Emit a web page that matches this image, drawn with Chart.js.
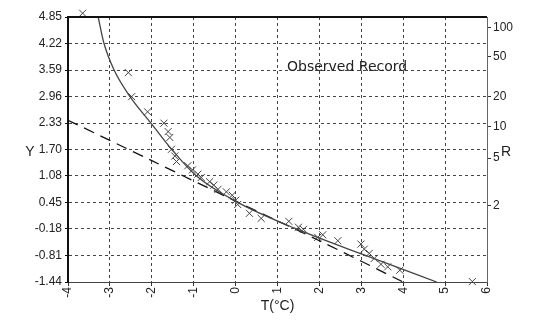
<!DOCTYPE html>
<html>
<head>
<meta charset="utf-8">
<script src="https://cdn.jsdelivr.net/npm/chart.js@4.4.0/dist/chart.umd.min.js"></script>
<style>
    body { margin: 0; background: #fff; }
    #wrap { width: 534px; height: 331px; position: relative; }
</style>
</head>
<body>
<div id="wrap"><canvas id="myChart"></canvas></div>
<script>
// observed record (T in °C, reduced variate Y)
const obsT = [-3.65, -2.56, -2.48, -2.10, -1.71, -1.61, -1.57, -1.53, -1.45, -1.41, -1.14, -1.03, -0.90, -0.82, -0.62, -0.52, -0.42, -0.22, -0.08, 0.00, 0.05, 0.33, 0.61, 1.27, 1.50, 1.62, 1.96, 2.08, 2.44, 2.99, 3.07, 3.19, 3.31, 3.47, 3.63, 3.92, 5.65];
const obsY = [4.94, 3.53, 2.96, 2.60, 2.33, 2.13, 1.99, 1.71, 1.55, 1.42, 1.32, 1.22, 1.12, 1.04, 0.94, 0.86, 0.76, 0.70, 0.62, 0.50, 0.40, 0.19, 0.07, 0.00, -0.14, -0.19, -0.38, -0.32, -0.46, -0.54, -0.66, -0.76, -0.88, -1.02, -1.08, -1.16, -1.43];

// fitted curve (solid)
const curveT = [-3.28, -3.14, -2.90, -2.52, -2.02, -1.52, -0.94, 0.05, 1.45, 3.10, 4.80];
const curveY = [4.85, 4.22, 3.59, 2.96, 2.33, 1.70, 1.08, 0.45, -0.18, -0.81, -1.44];

// straight fit (dashed)
const lineT = [-4, -2, 0, 2, 4];
const lineY = [2.40, 1.44, 0.48, -0.46, -1.44];

const yTicks = [-1.44, -0.81, -0.18, 0.45, 1.08, 1.70, 2.33, 2.96, 3.59, 4.22, 4.85];
const returnPeriods = [100, 50, 20, 10, 5, 2];

const toPoints = (xs, ys) => xs.map((x, i) => ({ x: x, y: ys[i] }));

const txtColor = '#222';

const extras = {
    id: 'extras',
    afterDraw(chart) {
        const { ctx, chartArea: a } = chart;
        ctx.save();
        // heavy frame on top and left
        ctx.strokeStyle = '#111';
        ctx.lineWidth = 2;
        ctx.beginPath();
        ctx.moveTo(a.right, a.top);
        ctx.lineTo(a.left, a.top);
        ctx.lineTo(a.left, a.bottom);
        ctx.stroke();

        ctx.fillStyle = txtColor;
        ctx.textBaseline = 'middle';
        ctx.textAlign = 'center';
        ctx.font = '14px "Liberation Sans"';
        ctx.fillText('Y', 30, 152);
        ctx.fillText('R', 506, 152);

        ctx.textAlign = 'left';
        ctx.textBaseline = 'alphabetic';
        ctx.font = '14px "DejaVu Sans"';
        ctx.fillText('Observed Record', 287, 71);
        ctx.restore();
    }
};

const config = {
    type: 'scatter',
    data: {
        datasets: [
            {
                label: 'Observed',
                data: toPoints(obsT, obsY),
                pointStyle: 'crossRot',
                pointRadius: 5,
                borderColor: '#444',
                borderWidth: 1,
                clip: false,
                order: 0
            },
            {
                label: 'Curve',
                data: toPoints(curveT, curveY),
                showLine: true,
                pointRadius: 0,
                borderColor: '#444',
                borderWidth: 1.3,
                cubicInterpolationMode: 'monotone',
                order: 1
            },
            {
                label: 'Line',
                data: toPoints(lineT, lineY),
                showLine: true,
                pointRadius: 0,
                borderColor: '#111',
                borderWidth: 1.3,
                borderDash: [11, 7],
                tension: 0.3,
                order: 2
            }
        ]
    },
    options: {
        responsive: true,
        maintainAspectRatio: false,
        animation: false,
        layout: { padding: { top: 17, left: 0, right: 0, bottom: 0 } },
        plugins: {
            legend: { display: false },
            tooltip: { enabled: false }
        },
        scales: {
            x: {
                type: 'linear',
                min: -4,
                max: 6,
                afterFit: (s) => { s.height = 49; },
                ticks: {
                    stepSize: 1,
                    minRotation: 90,
                    maxRotation: 90,
                    padding: 1,
                    color: txtColor,
                    font: { family: 'Liberation Sans', size: 12 }
                },
                grid: {
                    color: '#444',
                    tickLength: 4,
                    tickColor: '#333'
                },
                border: { display: true, color: '#444', dash: [3, 3] },
                title: {
                    display: true,
                    text: 'T(°C)',
                    color: txtColor,
                    font: { family: 'Liberation Sans', size: 14 },
                    padding: { top: 0, bottom: 16 }
                }
            },
            y: {
                type: 'linear',
                position: 'left',
                min: -1.44,
                max: 4.85,
                afterFit: (s) => { s.width = 68; },
                afterBuildTicks: (s) => { s.ticks = yTicks.map(v => ({ value: v })); },
                ticks: {
                    padding: 3,
                    color: txtColor,
                    font: { family: 'Liberation Sans', size: 12 },
                    callback: (v) => v.toFixed(2)
                },
                grid: {
                    color: '#444',
                    tickLength: 3,
                    tickColor: '#111'
                },
                border: { display: true, color: '#111', dash: [3, 3] }
            },
            r: {
                type: 'linear',
                position: 'right',
                min: -1.44,
                max: 4.85,
                afterFit: (s) => { s.width = 47; },
                afterBuildTicks: (s) => {
                    s.ticks = returnPeriods.map(R => ({ value: -Math.log(-Math.log(1 - 1 / R)) }));
                },
                ticks: {
                    padding: 2,
                    color: txtColor,
                    font: { family: 'Liberation Sans', size: 12 },
                    callback: function (v, i) { return String(returnPeriods[i]); }
                },
                grid: {
                    drawOnChartArea: false,
                    tickLength: 4,
                    tickColor: '#333'
                },
                border: { display: true, color: '#666', dash: [1, 2] }
            }
        }
    },
    plugins: [extras]
};

const ctx = document.getElementById('myChart').getContext('2d');
const myChart = new Chart(ctx, config);
</script>
</body>
</html>
